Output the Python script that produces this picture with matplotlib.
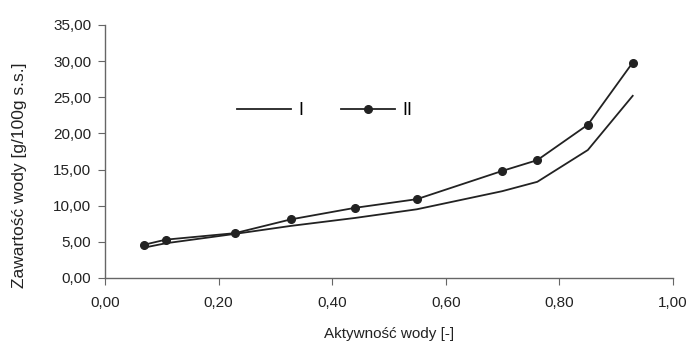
import matplotlib
matplotlib.use("Agg")
from matplotlib import pyplot as plt
from matplotlib.ticker import FuncFormatter

plt.rcParams['font.family'] = ['Liberation Sans', 'DejaVu Sans']

aw = [0.069, 0.107, 0.229, 0.327, 0.440, 0.549, 0.699, 0.761, 0.850, 0.929]
seria_I = [4.2, 4.8, 6.1, 7.2, 8.3, 9.5, 12.0, 13.3, 17.7, 25.2]
seria_II = [4.6, 5.3, 6.2, 8.1, 9.7, 10.9, 14.8, 16.3, 21.2, 29.8]

fig = plt.figure(figsize=(6.91, 3.47), dpi=100)
ax = fig.add_axes([0.152, 0.199, 0.822, 0.729])

line_col = '#222222'
ax.plot(aw, seria_I, '-', color=line_col, lw=1.3, label='I')
ax.plot(aw, seria_II, '-', color=line_col, lw=1.3, marker='o', ms=5.5, label='II')

ax.set_xlim(0, 1.0)
ax.set_ylim(0, 35)
ax.set_xticks([0, 0.2, 0.4, 0.6, 0.8, 1.0])
ax.set_yticks(range(0, 36, 5))
fmt = FuncFormatter(lambda v, p: f"{v:.2f}".replace('.', ','))
ax.xaxis.set_major_formatter(fmt)
ax.yaxis.set_major_formatter(fmt)

for s in ['top', 'right']:
    ax.spines[s].set_visible(False)
for s in ['left', 'bottom']:
    ax.spines[s].set_color('#666666')
    ax.spines[s].set_linewidth(1.0)
ax.tick_params(axis='both', direction='out', length=5, color='#666666',
               labelsize=11, labelcolor='#222222')
ax.tick_params(axis='x', pad=8)
ax.tick_params(axis='y', pad=5)

ax.set_xlabel('Aktywność wody [-]', fontsize=11, color='#222222', labelpad=12)
ax.set_ylabel('Zawartość wody [g/100g s.s.]', fontsize=12.5, color='#222222',
              va='center')
ax.yaxis.set_label_coords(-0.150, 0.407)

ax.legend(loc='upper left', bbox_to_anchor=(0.203, 0.76), ncol=2, frameon=False,
          handlelength=3.0, handletextpad=0.4, columnspacing=2.1, fontsize=13)

fig.savefig('out.png', dpi=100, facecolor='white')
